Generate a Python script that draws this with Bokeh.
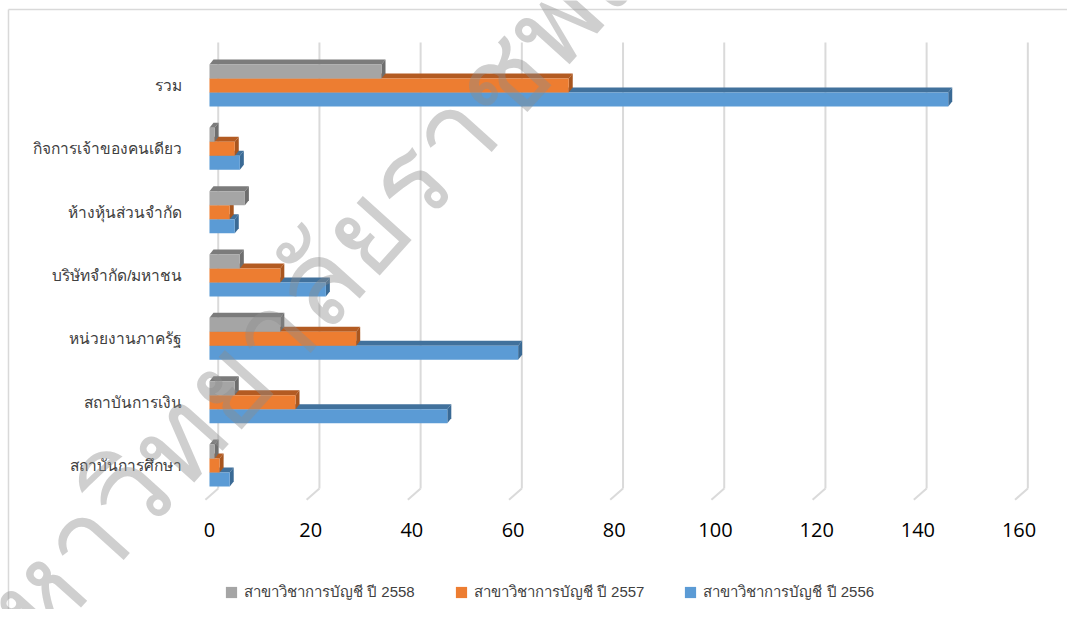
from bokeh.plotting import figure
from bokeh.models import (FixedTicker, Legend, LegendItem, Label, Range1d)
from bokeh.embed import file_html
from bokeh.resources import INLINE

categories = ["สถาบันการศึกษา", "สถาบันการเงิน", "หน่วยงานภาครัฐ",
              "บริษัทจำกัด/มหาชน", "ห้างหุ้นส่วนจำกัด", "กิจการเจ้าของคนเดียว", "รวม"]
v2558 = [1, 5, 14, 6, 7, 1, 34]
v2557 = [2, 17, 29, 14, 4, 5, 71]
v2556 = [4, 47, 61, 23, 5, 6, 146]
series_names = ["สาขาวิชาการบัญชี ปี 2558", "สาขาวิชาการบัญชี ปี 2557", "สาขาวิชาการบัญชี ปี 2556"]
x_ticks = [0, 20, 40, 60, 80, 100, 120, 140, 160]
watermark = "มหาวิทยาลัยราชพฤกษ์"

W, H = 1067, 609
X0, X1 = -41.30, 169.57     # frame spans the whole canvas
Y0, Y1 = -2.274, 7.342
AX_X = -1.58                # left edge of the plot area (data units)
AX_Y = -0.632               # bottom edge of the plot area (data units)

p = figure(width=W, height=H, output_backend="svg", toolbar_location=None,
           x_range=Range1d(X0, X1), y_range=Range1d(Y0, Y1), min_border=0)
p.outline_line_color = None
p.xgrid.grid_line_color = None
p.ygrid.grid_line_color = None

# chart-area border (left and top)
p.segment(x0=[-39.72, -39.72], y0=[7.2, 7.2], x1=[X1, -39.72], y1=[7.2, Y0],
          line_color="#d9d9d9", line_width=1.5)

# gridlines (back wall + floor slant)
gdx = 1.73
gx = [t + gdx for t in x_ticks]
p.segment(x0=gx, y0=[6.68] * len(gx), x1=gx, y1=[-0.363] * len(gx),
          line_color="#dadada", line_width=2)
p.segment(x0=gx, y0=[-0.363] * len(gx), x1=[t - 0.8 for t in x_ticks],
          y1=[-0.542] * len(gx), line_color="#dadada", line_width=2)

bh = 0.221
ddy = 0.079
ddx = 0.79
ypos = list(range(len(categories)))

specs = [
    (v2556, -bh, "#5B9BD5", "#41719C", "#3A6A95"),
    (v2557, 0.0, "#ED7D31", "#B35B22", "#A9561F"),
    (v2558, bh, "#A5A5A5", "#7B7B7B", "#6E6E6E"),
]
front = {}
for vals, off, c, ctop, cside in specs:
    ys = [y + off for y in ypos]
    tops = [y + bh / 2 for y in ys]
    bots = [y - bh / 2 for y in ys]
    p.patches(xs=[[0, v, v + ddx, ddx] for v in vals],
              ys=[[t, t, t + ddy, t + ddy] for t in tops],
              fill_color=ctop, line_color=None)
    p.patches(xs=[[v, v + ddx, v + ddx, v] for v in vals],
              ys=[[b, b + ddy, t + ddy, t] for b, t in zip(bots, tops)],
              fill_color=cside, line_color=None)
    r = p.hbar(y=ys, left=0, right=vals, height=bh, fill_color=c, line_color=None)
    front[c] = r

p.xaxis.fixed_location = AX_Y
p.xaxis.ticker = FixedTicker(ticks=x_ticks)
p.xaxis.axis_line_color = None
p.xaxis.major_tick_line_color = None
p.xaxis.minor_tick_line_color = None
p.xaxis.major_label_text_font_size = "20px"
p.xaxis.major_label_text_font = "Open Sans"
p.xaxis.major_label_text_color = "#000000"
p.xaxis.major_label_standoff = 11

p.yaxis.fixed_location = AX_X
p.yaxis.ticker = FixedTicker(ticks=ypos)
p.yaxis.major_label_overrides = {i: c for i, c in enumerate(categories)}
p.yaxis.axis_line_color = None
p.yaxis.major_tick_line_color = None
p.yaxis.minor_tick_line_color = None
p.yaxis.major_label_text_font_size = "15.5px"
p.yaxis.major_label_text_color = "#404040"
p.yaxis.major_label_standoff = 13

items = [LegendItem(label=series_names[0], renderers=[front["#A5A5A5"]]),
         LegendItem(label=series_names[1], renderers=[front["#ED7D31"]]),
         LegendItem(label=series_names[2], renderers=[front["#5B9BD5"]])]
legend = Legend(items=items, orientation="horizontal", location=(224, 5),
                border_line_color=None, background_fill_alpha=0,
                label_text_font_size="15px", label_text_color="#404040",
                glyph_width=14, glyph_height=14, label_standoff=6, spacing=39,
                padding=0, margin=0)
p.add_layout(legend, "center")

p.add_layout(Label(x=-49.6, y=-3.427, text=watermark, angle=0.838,
                   text_font_size="118px", text_color="#8c8c8c", text_alpha=0.42,
                   text_baseline="alphabetic"))

open("out.html", "w").write(file_html(p, INLINE))
